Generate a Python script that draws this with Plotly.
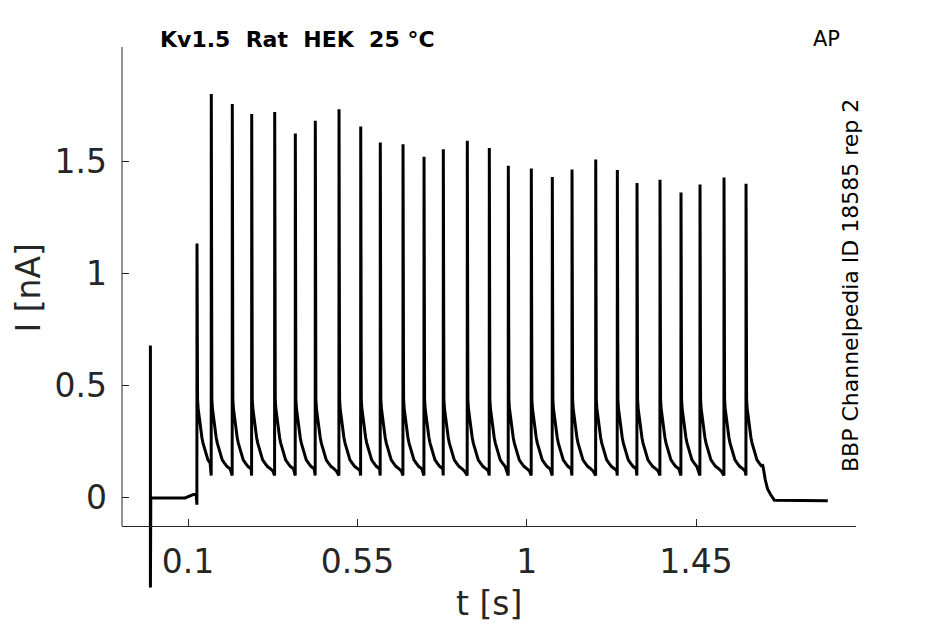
import plotly.graph_objects as go

# ---- data ----
# stimulus artefact at t=0 and baseline before the first AP
pre_t = [0.0, 0.0, 0.0, 0.001, 0.092, 0.1215, 0.1235]
pre_i = [0.0, 0.68, -0.40, 0.0, 0.0, 0.02, -0.03]

# AP-evoked current peaks
spike_t = [0.1238, 0.1618, 0.2176, 0.2692, 0.3303, 0.3851, 0.4382, 0.5012, 0.5589,
           0.6109, 0.6713, 0.7271, 0.7784, 0.8421, 0.9006, 0.9511, 1.0122, 1.0680,
           1.1204, 1.1834, 1.2408, 1.2931, 1.3542, 1.4100, 1.4605, 1.5243, 1.5828]
spike_peak = [1.136, 1.803, 1.758, 1.714, 1.723, 1.627, 1.684, 1.735, 1.658,
              1.587, 1.579, 1.523, 1.556, 1.594, 1.562, 1.483, 1.471, 1.433,
              1.466, 1.511, 1.464, 1.406, 1.420, 1.363, 1.399, 1.430, 1.403]

# decay after each peak (time after peak [s], current [nA])
decay_dt = [0.0006, 0.0015, 0.003, 0.005, 0.007, 0.010, 0.013, 0.016, 0.020,
            0.024, 0.029, 0.035, 0.042, 0.050, 0.056]
decay_i = [0.50, 0.44, 0.40, 0.37, 0.34, 0.30, 0.27, 0.245, 0.22,
           0.195, 0.17, 0.155, 0.14, 0.13, 0.12]
trough_i = 0.10

# end of the train and return to baseline
tail_t = [1.626, 1.628, 1.634, 1.640, 1.648, 1.658, 1.800]
tail_i = [0.15, 0.14, 0.08, 0.04, 0.015, -0.01, -0.013]

x_ticks = [0.1, 0.55, 1, 1.45]
x_ticklabels = ["0.1", "0.55", "1", "1.45"]
y_ticks = [0, 0.5, 1, 1.5]
y_ticklabels = ["0", "0.5", "1", "1.5"]

# ---- assemble the trace from the read values ----
t = list(pre_t)
cur = list(pre_i)
n = len(spike_t)
for k in range(n):
    ts, pk = spike_t[k], spike_peak[k]
    if k > 0:
        t.append(ts - 0.0003)
        cur.append(trough_i)
    t.append(ts)
    cur.append(pk)
    limit = spike_t[k + 1] - 0.0008 if k + 1 < n else tail_t[0]
    for dt, v in zip(decay_dt, decay_i):
        if ts + dt < limit:
            t.append(ts + dt)
            cur.append(v)
t += tail_t
cur += tail_i

AX = "#262626"
FONT = "DejaVu Sans"

fig = go.Figure()
fig.add_trace(go.Scatter(x=t, y=cur, mode="lines",
                         line=dict(color="black", width=3),
                         showlegend=False, hoverinfo="skip"))

axis_pos = (590 - 526) / 543.0

fig.update_layout(
    width=937, height=616,
    margin=dict(l=114, r=89, t=39, b=34),
    paper_bgcolor="white", plot_bgcolor="white",
    font=dict(family=FONT, color=AX),
    xaxis=dict(range=[-0.0755, 1.875], anchor="free", position=axis_pos,
               tickvals=x_ticks, ticktext=x_ticklabels,
               ticks="inside", ticklen=7, tickwidth=1, tickcolor=AX,
               showline=True, linecolor=AX, linewidth=1,
               showgrid=False, zeroline=False,
               tickfont=dict(size=33, color=AX, family=FONT),
               ticklabelstandoff=6),
    yaxis=dict(range=[-0.411, 2.013],
               tickvals=y_ticks, ticktext=y_ticklabels,
               ticks="inside", ticklen=7, tickwidth=1, tickcolor=AX,
               showline=False, showgrid=False, zeroline=False,
               tickfont=dict(size=33, color=AX, family=FONT),
               ticklabelstandoff=14),
    shapes=[dict(type="line", xref="paper", yref="paper", x0=0, x1=0,
                 y0=axis_pos, y1=1, line=dict(color=AX, width=1))],
    annotations=[
        dict(text="t [s]", xref="paper", yref="paper", x=0.5, y=(590 - 603) / 543.0,
             xanchor="center", yanchor="middle", showarrow=False,
             font=dict(size=33, color=AX, family=FONT)),
        dict(text="I [nA]", xref="paper", yref="paper", x=(27.5 - 122) / 734.0,
             y=(590 - 288) / 543.0, textangle=-90,
             xanchor="center", yanchor="middle", showarrow=False,
             font=dict(size=33, color=AX, family=FONT)),
        dict(text="<b>Kv1.5  Rat  HEK  25 °C</b>", xref="paper", yref="paper",
             x=(158 - 122) / 734.0, y=(590 - 40) / 543.0,
             xanchor="left", yanchor="middle", showarrow=False,
             font=dict(size=22, color="black", family=FONT)),
        dict(text="AP", xref="paper", yref="paper",
             x=(826 - 122) / 734.0, y=(590 - 39) / 543.0,
             xanchor="center", yanchor="middle", showarrow=False,
             font=dict(size=21, color="black", family=FONT)),
        dict(text="BBP Channelpedia ID 18585 rep 2", xref="paper", yref="paper",
             x=(850 - 122) / 734.0, y=(590 - 286) / 543.0, textangle=-90,
             xanchor="center", yanchor="middle", showarrow=False,
             font=dict(size=22, color="black", family=FONT)),
    ],
)

fig.write_html("out.html")
